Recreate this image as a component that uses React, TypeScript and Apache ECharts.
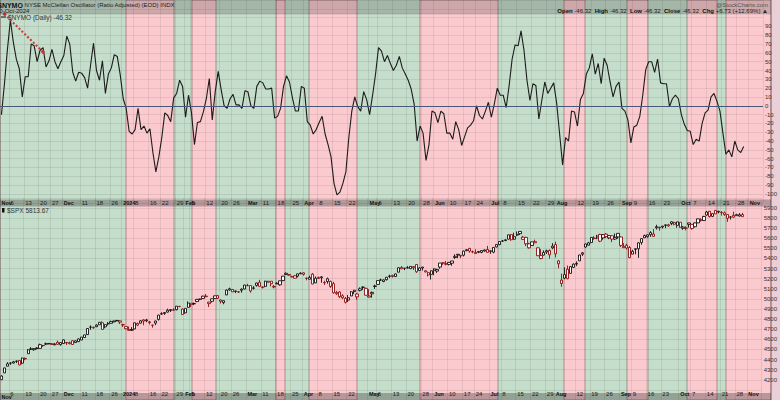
import React, { useEffect, useRef } from "react";
import * as echarts from "echarts";

const FONT = "'Liberation Sans', Arial, sans-serif";

// Trading-day categories (month -> trading days), through a few empty days after the last bar
const tradingDays: [string, number[]][] = [
  ["2023-11", [1, 2, 3, 6, 7, 8, 9, 10, 13, 14, 15, 16, 17, 20, 21, 22, 24, 27, 28, 29, 30]],
  ["2023-12", [1, 4, 5, 6, 7, 8, 11, 12, 13, 14, 15, 18, 19, 20, 21, 22, 26, 27, 28, 29]],
  ["2024-01", [2, 3, 4, 5, 8, 9, 10, 11, 12, 16, 17, 18, 19, 22, 23, 24, 25, 26, 29, 30, 31]],
  ["2024-02", [1, 2, 5, 6, 7, 8, 9, 12, 13, 14, 15, 16, 20, 21, 22, 23, 26, 27, 28, 29]],
  ["2024-03", [1, 4, 5, 6, 7, 8, 11, 12, 13, 14, 15, 18, 19, 20, 21, 22, 25, 26, 27, 28]],
  ["2024-04", [1, 2, 3, 4, 5, 8, 9, 10, 11, 12, 15, 16, 17, 18, 19, 22, 23, 24, 25, 26, 29, 30]],
  ["2024-05", [1, 2, 3, 6, 7, 8, 9, 10, 13, 14, 15, 16, 17, 20, 21, 22, 23, 24, 28, 29, 30, 31]],
  ["2024-06", [3, 4, 5, 6, 7, 10, 11, 12, 13, 14, 17, 18, 20, 21, 24, 25, 26, 27, 28]],
  ["2024-07", [1, 2, 3, 5, 8, 9, 10, 11, 12, 15, 16, 17, 18, 19, 22, 23, 24, 25, 26, 29, 30, 31]],
  ["2024-08", [1, 2, 5, 6, 7, 8, 9, 12, 13, 14, 15, 16, 19, 20, 21, 22, 23, 26, 27, 28, 29, 30]],
  ["2024-09", [3, 4, 5, 6, 9, 10, 11, 12, 13, 16, 17, 18, 19, 20, 23, 24, 25, 26, 27, 30]],
  ["2024-10", [1, 2, 3, 4, 7, 8, 9, 10, 11, 14, 15, 16, 17, 18, 21, 22, 23, 24, 25, 28, 29, 30, 31]],
  ["2024-11", [1, 4, 5, 6, 7]],
];

// $NYMO daily values
const nymo: number[] = [
  -10, 25, 64, 97, 72, 53, 42, 10, 33, 33,
  70, 68, 50, 63, 66, 44, 51, 64, 50, 42,
  50, 57, 79, 70, 38, 28, 38, 37, 32, 20,
  46, 71, 40, 29, 51, 14, 36, 43, 58, 56,
  35, 8, -3, -29, -32, -27, -3, -27, -23, -31,
  -26, -53, -75, -58, -36, -8, -11, -18, 9, 14,
  29, 22, -13, 12, -8, -44, -19, -18, -7, 8,
  31, -16, 16, 39, 18, 0, -3, 8, 13, 1,
  1, -3, 17, 16, 0, -3, 22, 28, 26, 19,
  19, 20, -14, -12, -3, 22, 34, 27, 9, -6,
  -6, 22, 20, -18, -22, -32, -27, -19, -12, -32,
  -44, -58, -88, -101, -98, -88, -75, -36, -6, 10,
  -1, -6, 16, 7, -10, 12, 36, 66, 62, 50,
  57, 48, 40, 46, 56, 43, 36, 29, 19, 2,
  -40, -23, -31, -62, -44, -6, -8, -19, -6, -9,
  -31, -31, -38, -18, -27, -45, -35, -25, -22, -17,
  0, -11, -15, -6, 4, -13, 2, 20, 12, 12,
  -2, 23, 53, 69, 68, 85, 63, 29, 6, 25,
  23, -15, 6, 27, 14, 20, 26, 3, -32, -67,
  -36, -40, -6, -7, -23, 7, 14, 36, 43, 59,
  36, 48, 25, 54, 46, 27, 10, 22, 27, -3,
  -6, -16, -42, -24, -22, -12, 12, 41, 50, 50,
  38, 53, 26, 25, 25, -1, 8, 12, 8, -10,
  -21, -28, -29, -44, -38, -40, -20, -8, -5, 10,
  14, 5, -6, -31, -55, -50, -58, -40, -50, -53.05,
  -46.32,
];

// $SPX daily OHLC
const spxOpen: number[] = [
  4201, 4268, 4334, 4365, 4366, 4384, 4391, 4364, 4406, 4458, 4505, 4497, 4509, 4511, 4539, 4553, 4555, 4555, 4546, 4571, 4548,
  4559, 4564, 4557, 4586, 4568, 4577, 4593, 4618, 4647, 4721, 4714, 4725, 4744, 4764, 4724, 4754, 4759, 4773, 4786, 4782,
  4745, 4726, 4698, 4690, 4703, 4741, 4760, 4792, 4792, 4773, 4740, 4760, 4797, 4853, 4856, 4888, 4886, 4888, 4893, 4925, 4899,
  4862, 4916, 4957, 4951, 4973, 4995, 5004, 5027, 4968, 4976, 5004, 5032, 4989, 4963, 5039, 5100, 5093, 5074, 5068, 5085,
  5098, 5131, 5132, 5108, 5133, 5164, 5112, 5124, 5174, 5175, 5123, 5154, 5139, 5181, 5253, 5242, 5219, 5228, 5226, 5248,
  5258, 5204, 5194, 5245, 5158, 5212, 5218, 5160, 5172, 5172, 5150, 5065, 5068, 5031, 5005, 4988, 5029, 5085, 5020, 5084, 5114, 5104,
  5029, 5050, 5123, 5143, 5187, 5172, 5190, 5226, 5233, 5221, 5264, 5310, 5303, 5305, 5299, 5319, 5340, 5281, 5315, 5278, 5260, 5243,
  5297, 5275, 5315, 5357, 5343, 5341, 5353, 5409, 5441, 5424, 5432, 5477, 5499, 5467, 5459, 5460, 5460, 5473, 5488,
  5471, 5462, 5514, 5537, 5572, 5584, 5591, 5635, 5590, 5638, 5645, 5610, 5608, 5544, 5528, 5566, 5505, 5428, 5433, 5476, 5479, 5505,
  5537, 5376, 5152, 5206, 5293, 5252, 5312, 5351, 5376, 5442, 5513, 5531, 5557, 5602, 5603, 5637, 5603, 5640, 5603, 5624, 5608, 5613,
  5612, 5506, 5530, 5508, 5443, 5490, 5496, 5558, 5604, 5615, 5655, 5641, 5703, 5709, 5711, 5727, 5733, 5762, 5755, 5727,
  5758, 5698, 5698, 5737, 5737, 5714, 5752, 5778, 5775, 5829, 5866, 5816, 5875, 5859, 5857, 5833, 5835, 5810, 5826, 5833, 5819, 5833,
];
const spxHigh: number[] = [
  4245, 4320, 4374, 4372, 4386, 4391, 4393, 4418, 4421, 4503, 4522, 4511, 4521, 4557, 4542, 4568, 4560, 4562, 4562, 4587, 4570,
  4599, 4574, 4578, 4590, 4590, 4609, 4623, 4644, 4710, 4738, 4726, 4749, 4769, 4779, 4749, 4772, 4785, 4785, 4793, 4788,
  4755, 4730, 4727, 4721, 4764, 4765, 4790, 4798, 4803, 4782, 4744, 4785, 4842, 4868, 4866, 4903, 4898, 4907, 4929, 4931, 4906,
  4906, 4975, 4957, 4964, 4999, 5001, 5031, 5048, 4971, 5003, 5033, 5039, 4993, 4983, 5094, 5111, 5097, 5081, 5077, 5104,
  5140, 5149, 5134, 5127, 5160, 5189, 5125, 5179, 5179, 5176, 5137, 5165, 5180, 5225, 5262, 5246, 5229, 5235, 5249, 5264,
  5263, 5208, 5229, 5256, 5222, 5220, 5224, 5179, 5211, 5181, 5168, 5079, 5077, 5046, 5019, 5038, 5077, 5089, 5057, 5114, 5124, 5110,
  5096, 5073, 5140, 5181, 5200, 5191, 5215, 5239, 5238, 5250, 5311, 5325, 5305, 5325, 5322, 5324, 5341, 5315, 5315, 5282, 5270, 5280,
  5302, 5298, 5354, 5362, 5375, 5365, 5376, 5441, 5442, 5432, 5477, 5488, 5505, 5478, 5490, 5473, 5483, 5490, 5524,
  5479, 5510, 5540, 5570, 5583, 5590, 5635, 5642, 5655, 5667, 5669, 5623, 5614, 5556, 5566, 5586, 5509, 5492, 5479, 5487, 5489, 5551,
  5566, 5383, 5250, 5312, 5330, 5326, 5351, 5371, 5436, 5464, 5546, 5564, 5608, 5620, 5633, 5644, 5641, 5652, 5630, 5627, 5647, 5648,
  5617, 5551, 5546, 5523, 5485, 5497, 5560, 5600, 5636, 5636, 5670, 5690, 5733, 5715, 5722, 5735, 5742, 5767, 5764, 5763,
  5758, 5720, 5718, 5752, 5740, 5757, 5793, 5796, 5822, 5871, 5870, 5843, 5879, 5872, 5867, 5864, 5835, 5817, 5862, 5842, 5848, 5851,
];
const spxLow: number[] = [
  4197, 4268, 4334, 4347, 4360, 4365, 4343, 4353, 4393, 4458, 4495, 4487, 4500, 4510, 4526, 4545, 4552, 4546, 4541, 4546, 4537,
  4554, 4545, 4551, 4547, 4566, 4574, 4593, 4614, 4643, 4694, 4705, 4721, 4743, 4697, 4709, 4737, 4758, 4769, 4780, 4751,
  4722, 4700, 4687, 4682, 4700, 4730, 4756, 4740, 4769, 4747, 4715, 4740, 4785, 4844, 4842, 4865, 4870, 4881, 4887, 4917, 4845,
  4853, 4915, 4919, 4939, 4969, 4987, 4999, 5016, 4920, 4964, 4999, 4999, 4955, 4947, 5038, 5081, 5068, 5057, 5058, 5061,
  5094, 5127, 5061, 5092, 5121, 5117, 5103, 5115, 5161, 5124, 5104, 5146, 5131, 5176, 5240, 5229, 5216, 5203, 5213, 5246,
  5230, 5184, 5194, 5146, 5157, 5198, 5160, 5138, 5150, 5108, 5052, 5039, 5007, 4998, 4954, 4969, 5028, 5047, 4990, 5074, 5089, 5035,
  5013, 5012, 5099, 5142, 5178, 5165, 5182, 5207, 5211, 5218, 5263, 5296, 5284, 5303, 5297, 5286, 5257, 5278, 5280, 5262, 5222, 5191,
  5234, 5257, 5298, 5336, 5331, 5331, 5328, 5395, 5404, 5403, 5420, 5471, 5456, 5452, 5447, 5452, 5451, 5467, 5460,
  5445, 5452, 5510, 5531, 5563, 5571, 5587, 5575, 5584, 5620, 5632, 5584, 5522, 5497, 5523, 5552, 5424, 5391, 5430, 5444, 5398, 5491,
  5410, 5302, 5120, 5194, 5195, 5249, 5307, 5324, 5376, 5425, 5506, 5529, 5550, 5585, 5591, 5561, 5585, 5602, 5591, 5561, 5583, 5595,
  5513, 5503, 5488, 5403, 5442, 5441, 5406, 5535, 5602, 5605, 5614, 5615, 5686, 5674, 5695, 5699, 5714, 5729, 5728, 5704,
  5703, 5683, 5678, 5704, 5684, 5707, 5749, 5764, 5774, 5822, 5804, 5809, 5840, 5846, 5824, 5822, 5762, 5784, 5799, 5823, 5814, 5814,
];
const spxClose: number[] = [
  4237, 4317, 4358, 4365, 4378, 4383, 4347, 4415, 4411, 4496, 4502, 4508, 4514, 4547, 4538, 4556, 4559, 4550, 4554, 4551, 4568,
  4595, 4569, 4567, 4549, 4585, 4604, 4622, 4644, 4707, 4720, 4719, 4741, 4768, 4698, 4746, 4755, 4775, 4781, 4783, 4770,
  4743, 4705, 4689, 4697, 4764, 4757, 4783, 4780, 4784, 4766, 4739, 4781, 4840, 4850, 4865, 4869, 4894, 4891, 4928, 4925, 4846,
  4906, 4959, 4943, 4954, 4995, 4998, 5027, 5022, 4953, 5001, 5030, 5006, 4976, 4982, 5087, 5089, 5070, 5078, 5070, 5096,
  5137, 5131, 5079, 5105, 5157, 5124, 5118, 5175, 5165, 5150, 5117, 5149, 5179, 5225, 5241, 5234, 5218, 5204, 5248, 5254,
  5243, 5205, 5211, 5147, 5204, 5202, 5209, 5161, 5199, 5123, 5061, 5051, 5022, 5011, 4967, 5011, 5070, 5072, 5048, 5100, 5116, 5036,
  5018, 5064, 5128, 5181, 5187, 5188, 5214, 5223, 5221, 5247, 5308, 5297, 5303, 5308, 5321, 5307, 5268, 5305, 5306, 5267, 5236, 5278,
  5283, 5291, 5354, 5353, 5347, 5361, 5375, 5421, 5434, 5431, 5473, 5487, 5473, 5465, 5448, 5469, 5478, 5483, 5460,
  5475, 5509, 5537, 5567, 5572, 5577, 5633, 5585, 5615, 5631, 5667, 5589, 5545, 5505, 5564, 5555, 5427, 5399, 5459, 5464, 5436, 5522,
  5446, 5347, 5186, 5240, 5199, 5319, 5344, 5344, 5434, 5455, 5543, 5554, 5608, 5597, 5621, 5571, 5635, 5616, 5626, 5592, 5592, 5648,
  5529, 5520, 5503, 5408, 5471, 5496, 5554, 5596, 5626, 5633, 5634, 5618, 5714, 5703, 5719, 5732, 5722, 5745, 5738, 5762,
  5709, 5710, 5700, 5751, 5696, 5751, 5792, 5780, 5815, 5859, 5815, 5843, 5841, 5865, 5853, 5851, 5797, 5809, 5808, 5823, 5832, 5813.67,
];

// x-axis tick labels (category date -> label)
const xTickLabels: [string, string][] = [
  ["2023-11-01", "Nov"], ["2023-11-06", "6"], ["2023-11-13", "13"], ["2023-11-20", "20"], ["2023-11-27", "27"],
  ["2023-12-01", "Dec"], ["2023-12-11", "11"], ["2023-12-18", "18"], ["2023-12-26", "26"],
  ["2024-01-02", "2024"], ["2024-01-08", "8"], ["2024-01-16", "16"], ["2024-01-22", "22"], ["2024-01-29", "29"],
  ["2024-02-01", "Feb"], ["2024-02-05", "5"], ["2024-02-12", "12"], ["2024-02-20", "20"], ["2024-02-26", "26"],
  ["2024-03-04", "Mar"], ["2024-03-11", "11"], ["2024-03-18", "18"], ["2024-03-25", "25"],
  ["2024-04-01", "Apr"], ["2024-04-08", "8"], ["2024-04-15", "15"], ["2024-04-22", "22"],
  ["2024-05-01", "May"], ["2024-05-06", "6"], ["2024-05-13", "13"], ["2024-05-20", "20"], ["2024-05-28", "28"],
  ["2024-06-03", "Jun"], ["2024-06-10", "10"], ["2024-06-17", "17"], ["2024-06-24", "24"],
  ["2024-07-01", "Jul"], ["2024-07-08", "8"], ["2024-07-15", "15"], ["2024-07-22", "22"], ["2024-07-29", "29"],
  ["2024-08-01", "Aug"], ["2024-08-12", "12"], ["2024-08-19", "19"], ["2024-08-26", "26"],
  ["2024-09-03", "Sep"], ["2024-09-09", "9"], ["2024-09-16", "16"], ["2024-09-23", "23"],
  ["2024-10-01", "Oct"], ["2024-10-07", "7"], ["2024-10-14", "14"], ["2024-10-21", "21"], ["2024-10-28", "28"],
  ["2024-11-01", "Nov"],
];
const boldLabels = ["Nov", "Dec", "2024", "Feb", "Mar", "Apr", "May", "Jun", "Jul", "Aug", "Sep", "Oct"];

// Red (bearish) background bands: [first day, first day after]
const redBands: [string, string][] = [
  ["2024-01-03", "2024-01-26"],
  ["2024-02-05", "2024-02-15"],
  ["2024-03-15", "2024-03-20"],
  ["2024-04-02", "2024-04-24"],
  ["2024-05-23", "2024-07-02"],
  ["2024-08-02", "2024-08-13"],
  ["2024-09-03", "2024-09-12"],
  ["2024-10-01", "2024-10-15"],
  ["2024-10-18", "end"],
];

const nymoLabelRange = [-100, 90];
const spxLabelRange = [4200, 5900];

const GREEN = "#c5ddcb";
const RED = "#fbcace";
const GRIDLINE = "rgba(0,0,0,0.075)";

export default function App() {
  const ref = useRef<HTMLDivElement>(null);

  useEffect(() => {
    const el = ref.current;
    if (!el) return;
    const chart = echarts.init(el, null, { renderer: "svg" });

    const dates = tradingDays.flatMap(([m, ds]) => ds.map((d) => `${m}-${String(d).padStart(2, "0")}`));
    const N = dates.length;
    const tickMap = new Map<number, string>(xTickLabels.map(([d, l]) => [dates.indexOf(d), l]));
    const idx = (d: string) => (d === "end" ? N : dates.indexOf(d));
    // the first tick label sits at the very left edge; echarts drops it because it touches the next one,
    // so it is written as a plain text at the same place
    const firstLabel = xTickLabels[0][1];

    const xLabel = {
      interval: (i: number) => i > 0 && tickMap.has(i),
      formatter: (_v: string, i: number) => {
        const l = tickMap.get(i);
        if (!l || i === 0) return "";
        return boldLabels.includes(l) ? `{m|${l}}` : l;
      },
      align: "left",
      margin: 0,
      fontSize: 6,
      color: "#1a1a1a",
      fontFamily: FONT,
      rich: { m: { fontWeight: "bold", fontSize: 5.5, color: "#111", fontFamily: FONT } },
    };
    const xSplit = {
      show: true,
      interval: (i: number) => tickMap.has(i),
      lineStyle: { color: GRIDLINE, width: 1 },
    };

    const candles = spxClose.map((c, i) => {
      const prev = i === 0 ? spxOpen[0] : spxClose[i - 1];
      const col = c >= prev ? "#111111" : "#8a1010";
      return {
        value: [spxOpen[i], c, spxLow[i], spxHigh[i]],
        itemStyle: { color: "#ffffff", color0: col, borderColor: col, borderColor0: col, borderWidth: 0.9 },
      };
    });

    const bandAreas: any[] = [
      [{ xAxis: 0, itemStyle: { color: GREEN, borderWidth: 0 } }, { xAxis: N }],
      ...redBands.map(([a, b]) => [
        { xAxis: idx(a), itemStyle: { color: RED, borderColor: "rgba(120,90,90,0.55)", borderWidth: 1 } },
        { xAxis: idx(b) },
      ]),
    ];

    const firstLabelText = (y: number) => ({
      type: "text", z: 11, x: 1.5, y,
      style: {
        text: firstLabel, fontSize: 5.5, fontWeight: "bold", fontFamily: FONT, fill: "#111", verticalAlign: "middle",
      },
    });

    const option: any = {
      animation: false,
      backgroundColor: "#ffffff",
      grid: [
        { left: 0, top: -2, width: 771, height: 404 },
        { left: 0, top: -3.1, width: 771, height: 205.85 },
        { left: 0, top: 197.77, width: 771, height: 204.7 },
      ],
      xAxis: [
        { gridIndex: 0, type: "value", min: 0, max: N, show: false },
        {
          gridIndex: 1, type: "category", data: dates, boundaryGap: true, offset: -3, z: 3,
          axisLine: { show: false }, axisTick: { show: false }, axisLabel: xLabel, splitLine: xSplit,
        },
        {
          gridIndex: 2, type: "category", data: dates, boundaryGap: true, offset: -9.2, z: 3,
          axisLine: { show: false }, axisTick: { show: false }, axisLabel: xLabel, splitLine: xSplit,
        },
      ],
      yAxis: [
        { gridIndex: 0, type: "value", min: 0, max: 1, show: false },
        {
          gridIndex: 1, type: "value", position: "right", min: -110, max: 120, interval: 10, z: 3,
          axisLine: { show: false }, axisTick: { show: false },
          axisLabel: {
            margin: 2, fontSize: 6, color: "#333", fontFamily: FONT, align: "left",
            formatter: (v: number) => (v >= nymoLabelRange[0] && v <= nymoLabelRange[1] ? String(v) : ""),
          },
          splitLine: { show: true, lineStyle: { color: GRIDLINE, width: 1 } },
        },
        {
          gridIndex: 2, type: "value", position: "right", min: 4000, max: 6000, interval: 100, z: 3,
          axisLine: { show: false }, axisTick: { show: false },
          axisLabel: {
            margin: 2, fontSize: 6, color: "#333", fontFamily: FONT, align: "left",
            formatter: (v: number) => (v >= spxLabelRange[0] && v <= spxLabelRange[1] ? String(v) : ""),
          },
          splitLine: { show: true, lineStyle: { color: GRIDLINE, width: 1 } },
        },
      ],
      series: [
        {
          type: "line", xAxisIndex: 0, yAxisIndex: 0, data: [[0, 0]], symbol: "none", silent: true, z: 0,
          lineStyle: { opacity: 0 },
          markArea: { silent: true, z: 0, data: bandAreas },
        },
        {
          type: "line", xAxisIndex: 1, yAxisIndex: 1, data: nymo, symbol: "none", z: 4,
          lineStyle: { color: "#1c1c1c", width: 1.1 },
          markLine: {
            silent: true, symbol: "none", label: { show: false },
            data: [
              { yAxis: 0, lineStyle: { color: "#4a5878", width: 1, type: "solid" } },
              [
                { coord: [dates[1], 104], symbol: "rect", symbolSize: 3, lineStyle: { color: "#c83a3a", width: 2, type: "dotted" } },
                { coord: [dates[14], 61], symbol: "rect", symbolSize: 3 },
              ],
            ],
          },
        },
        {
          type: "candlestick", xAxisIndex: 2, yAxisIndex: 2, data: candles, barWidth: 2.8, z: 4,
        },
      ],
      graphic: [
        { type: "rect", z: 0, shape: { x: 771, y: 0, width: 9, height: 400 }, style: { fill: "#ebcfd6" } },
        { type: "rect", z: 10, shape: { x: 770.5, y: 0, width: 1, height: 400 }, style: { fill: "rgba(90,70,80,0.55)" } },
        { type: "rect", z: 10, shape: { x: 0, y: 0, width: 1, height: 400 }, style: { fill: "rgba(120,90,95,0.5)" } },
        { type: "rect", z: 10, shape: { x: 0, y: 0, width: 771, height: 14 }, style: { fill: "rgba(30,30,30,0.2)" } },
        { type: "rect", z: 10, shape: { x: 0, y: 13.5, width: 771, height: 1 }, style: { fill: "rgba(30,30,30,0.15)" } },
        { type: "rect", z: 10, shape: { x: 0, y: 199.5, width: 771, height: 7 }, style: { fill: "rgba(30,30,30,0.3)" } },
        { type: "rect", z: 10, shape: { x: 0, y: 393, width: 771, height: 7 }, style: { fill: "rgba(30,30,30,0.3)" } },
        firstLabelText(203.2),
        firstLabelText(396.6),
        {
          type: "text", z: 11, x: -2, y: 5,
          style: {
            text: "{b|$NYMO} NYSE McClellan Oscillator (Ratio Adjusted) (EOD) INDX",
            fontSize: 6, fontFamily: FONT, fill: "#222", verticalAlign: "middle",
            rich: { b: { fontWeight: "bold", fontSize: 7, fontFamily: FONT, fill: "#111" } },
          },
        },
        {
          type: "text", z: 11, x: -4, y: 11,
          style: { text: "30-Oct-2024", fontSize: 6, fontFamily: FONT, fill: "#222", verticalAlign: "middle" },
        },
        { type: "rect", z: 11, shape: { x: 1, y: 16.5, width: 5, height: 1 }, style: { fill: "#111" } },
        {
          type: "text", z: 11, x: 8, y: 17,
          style: { text: "$NYMO (Daily) -46.32", fontSize: 6.5, fontFamily: FONT, fill: "#333", verticalAlign: "middle" },
        },
        {
          type: "text", z: 11, x: 768, y: 5,
          style: { text: "@StockCharts.com", fontSize: 6, fontFamily: FONT, fill: "#555", align: "right", verticalAlign: "middle" },
        },
        {
          type: "text", z: 11, x: 768, y: 11,
          style: {
            text: "{b|Open} -46.32  {b|High} -46.32  {b|Low} -46.32  {b|Close} -46.32  {b|Chg} +6.73 (+12.69%) \u25B2",
            fontSize: 6, fontFamily: FONT, fill: "#222", align: "right", verticalAlign: "middle",
            rich: { b: { fontWeight: "bold", fontSize: 6, fontFamily: FONT, fill: "#111" } },
          },
        },
        { type: "rect", z: 11, shape: { x: 2, y: 208, width: 2.5, height: 4.5 }, style: { fill: "#111" } },
        {
          type: "text", z: 11, x: 7, y: 210.5,
          style: { text: "$SPX 5813.67", fontSize: 6.5, fontFamily: FONT, fill: "#333", verticalAlign: "middle" },
        },
      ],
    };

    chart.setOption(option);
    return () => chart.dispose();
  }, []);

  return <div ref={ref} style={{ position: "fixed", left: 0, top: 0, width: 780, height: 400 }} />;
}
